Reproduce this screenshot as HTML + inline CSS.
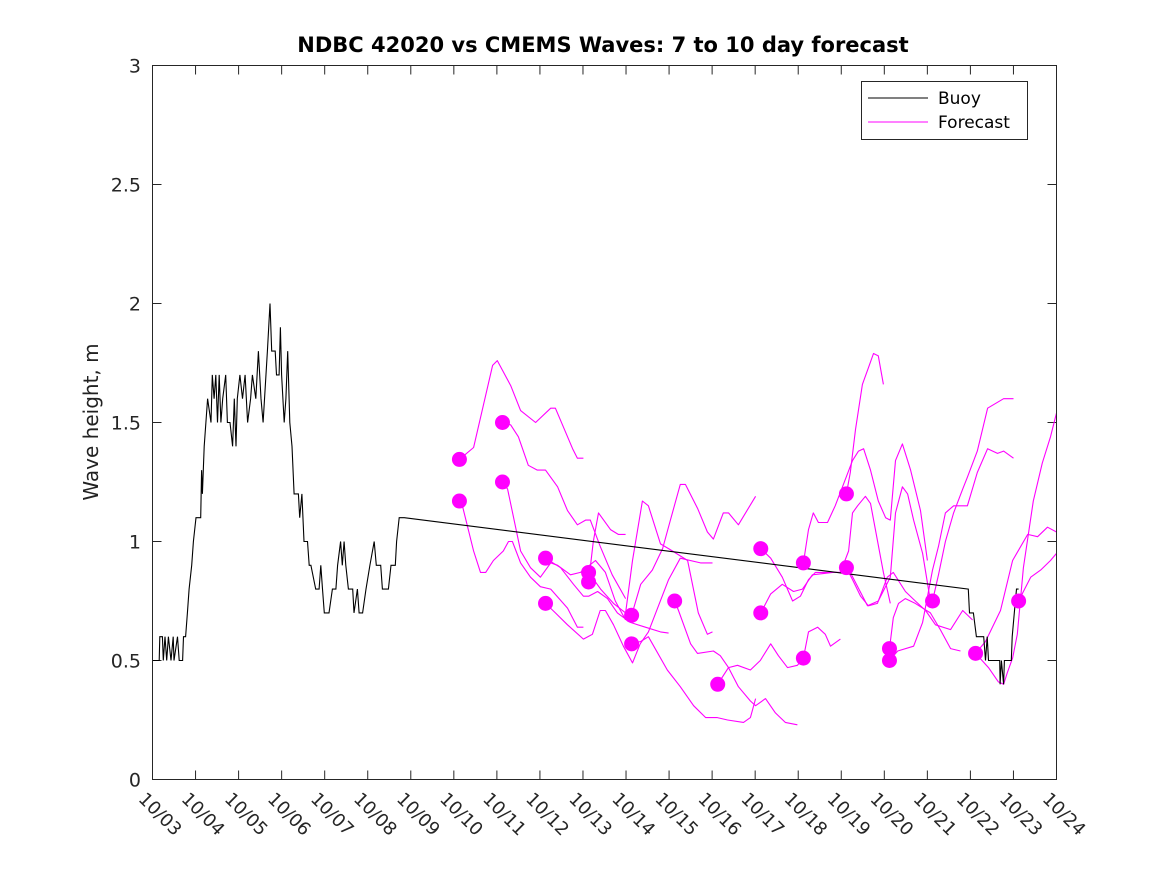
<!DOCTYPE html>
<html><head><meta charset="utf-8"><style>
html,body{margin:0;padding:0;background:#fff;}
svg{display:block;font-family:"DejaVu Sans","Liberation Sans",sans-serif;}
</style></head><body>
<svg id="chart" width="1167" height="875" viewBox="0 0 1167 875">
<rect x="0" y="0" width="1167" height="875" fill="#fff"/>
<text x="603" y="52" text-anchor="middle" font-size="21" font-weight="bold" fill="#000">NDBC 42020 vs CMEMS Waves: 7 to 10 day forecast</text>
<text transform="translate(98,422) rotate(-90)" text-anchor="middle" font-size="20" fill="#222">Wave height, m</text>
<g id="grid"></g>
<g id="forecast"></g>
<g id="buoy"></g>
<g id="dots"></g>
<rect x="152.5" y="65.5" width="904" height="714" fill="none" stroke="#262626" stroke-width="1"/>
<g>
<rect x="861.5" y="81.5" width="166" height="58" fill="#fff" stroke="#262626"/>
<line x1="868" y1="98" x2="928" y2="98" stroke="#000" stroke-width="1"/>
<text x="938" y="104" font-size="17" fill="#000">Buoy</text>
<line x1="868" y1="122" x2="928" y2="122" stroke="#ff00ff" stroke-width="1"/>
<text x="938" y="128" font-size="17" fill="#000">Forecast</text>
</g>
</svg>
<script>
const xTickLabels = ["10/03","10/04","10/05","10/06","10/07","10/08","10/09","10/10","10/11","10/12","10/13","10/14","10/15","10/16","10/17","10/18","10/19","10/20","10/21","10/22","10/23","10/24"];
const yTicks = [0,0.5,1,1.5,2,2.5,3];
const yTickLabels = ["0","0.5","1","1.5","2","2.5","3"];
// buoy: days since 10/03 and height (m)
const buoyDays = [0,0.155,0.17,0.23,0.25,0.29,0.33,0.37,0.43,0.48,0.50,0.58,0.62,0.70,0.72,0.77,0.81,0.85,0.91,0.95,1.01,1.12,1.14,1.16,1.20,1.24,1.28,1.36,1.39,1.43,1.47,1.51,1.55,1.59,1.63,1.70,1.74,1.80,1.86,1.90,1.94,1.97,2.03,2.09,2.15,2.21,2.28,2.32,2.40,2.46,2.52,2.57,2.67,2.73,2.77,2.85,2.88,2.94,2.97,3.00,3.06,3.10,3.14,3.19,3.24,3.29,3.39,3.42,3.47,3.52,3.60,3.64,3.68,3.79,3.87,3.91,3.95,3.99,4.10,4.18,4.26,4.30,4.37,4.41,4.45,4.49,4.55,4.65,4.68,4.76,4.80,4.88,4.96,5.05,5.15,5.20,5.30,5.34,5.48,5.54,5.64,5.67,5.73,5.85,18.95,18.98,19.07,19.14,19.19,19.31,19.35,19.39,19.42,19.68,19.69,19.72,19.77,19.79,19.95,19.97,20.02,20.07,20.12];
const buoyHeights = [0.5,0.5,0.6,0.6,0.5,0.6,0.5,0.6,0.5,0.6,0.5,0.6,0.5,0.5,0.6,0.6,0.7,0.8,0.9,1.0,1.1,1.1,1.3,1.2,1.4,1.5,1.6,1.5,1.7,1.6,1.7,1.5,1.7,1.5,1.6,1.7,1.5,1.5,1.4,1.6,1.4,1.6,1.7,1.6,1.7,1.5,1.6,1.7,1.6,1.8,1.6,1.5,1.8,2.0,1.8,1.8,1.7,1.7,1.9,1.7,1.5,1.6,1.8,1.5,1.4,1.2,1.2,1.1,1.2,1.0,1.0,0.9,0.9,0.8,0.8,0.9,0.8,0.7,0.7,0.8,0.8,0.9,1.0,0.9,1.0,0.9,0.8,0.8,0.7,0.8,0.7,0.7,0.8,0.9,1.0,0.9,0.9,0.8,0.8,0.9,0.9,1.0,1.1,1.1,0.8,0.7,0.7,0.6,0.6,0.6,0.5,0.6,0.5,0.5,0.4,0.5,0.4,0.5,0.5,0.6,0.7,0.8,0.8];
// forecast runs: days and heights
const fcDays = [
[7.13,7.46,7.90,8.01,8.32,8.55,8.90,9.25,9.36,9.76,9.87,10.01],
[7.13,7.20,7.46,7.62,7.74,7.92,8.15,8.27,8.36,8.55,8.78,9.01,9.25,9.64,9.87,10.01],
[8.13,8.32,8.50,8.73,8.94,9.13,9.41,9.64,9.87,10.06,10.17,10.40,10.68,10.99],
[8.13,8.25,8.55,8.78,9.01,9.25,9.41,9.71,9.94,10.29,10.52,10.75,10.99],
[9.13,9.48,9.78,10.01,10.13,10.34,10.57,10.80,11.10,11.45,11.80,11.99],
[9.13,9.36,9.64,10.01,10.22,10.40,10.52,10.71,10.94,11.15,11.33,11.52,11.99,12.26,12.73,13.01],
[10.13,10.41,10.71,10.99,11.15,11.38,11.52,11.80,12.08,12.43,12.68,12.89,13.01],
[10.13,10.24,10.36,10.64,10.82,10.99],
[11.13,11.34,11.61,11.85,12.03,12.26,12.38,12.66,12.89,13.03,13.26,13.38,13.61,14.01],
[11.13,11.34,11.52,11.96,12.26,12.57,12.85,13.12,13.36,13.73,13.89,14.01],
[12.13,12.22,12.50,12.66,13.03,13.19,13.38,13.61,13.89,14.01,14.24,14.47,14.70,14.98],
[13.13,13.38,13.59,13.89,14.12,14.36,14.54,14.75,14.98,15.17],
[14.13,14.36,14.63,14.87,15.05,15.24,15.40,15.98,16.21,16.61,16.86,17.14,17.26,17.42,17.54,17.68,17.89,18.07],
[14.13,14.36,14.63,14.89,15.10,15.33,15.80,15.98,16.17,16.26,16.38,16.56,16.68,16.98,17.14],
[15.12,15.24,15.35,15.47,15.68,15.86,16.05,16.26,16.40,16.52,16.68,16.86,17.03,17.14,17.26,17.42,17.61,17.84,18.00],
[15.12,15.24,15.45,15.63,15.75,15.98],
[16.12,16.21,16.33,16.49,16.63,16.75,16.86,16.98],
[16.12,16.26,16.45,16.63,16.84,17.07,17.21,17.49,17.72,17.96,18.19,18.54,18.82,19.05],
[17.12,17.21,17.33,17.49,17.72,17.89,18.07,18.30,18.54,18.77],
[17.12,17.31,17.68,17.89,18.12,18.26,18.42,18.61,18.93,19.16,19.40,19.63,19.77,20.00],
[18.12,18.26,18.42,18.61,18.82,18.93,19.16,19.40,19.77,20.00],
[19.12,19.42,19.65,19.77,19.86,19.98,20.09,20.23,20.46,20.67,20.86,21.0],
[20.12,20.23,20.40,20.63,20.86,21.0],
[19.12,19.35,19.70,19.98,20.33,20.56,20.79,21.0]
];
const fcHeights = [
[1.345,1.395,1.74,1.76,1.655,1.55,1.50,1.56,1.56,1.39,1.35,1.35],
[1.17,1.15,0.96,0.87,0.87,0.92,0.96,1.00,1.00,0.91,0.85,0.81,0.80,0.72,0.64,0.64],
[1.50,1.49,1.44,1.32,1.30,1.30,1.23,1.13,1.07,1.09,1.09,0.98,0.86,0.76],
[1.25,1.22,0.96,0.89,0.85,0.91,0.90,0.86,0.87,0.92,0.87,0.75,0.67],
[0.93,0.89,0.82,0.77,0.77,0.79,0.76,0.70,0.66,0.64,0.62,0.615],
[0.74,0.70,0.65,0.59,0.61,0.71,0.71,0.65,0.56,0.49,0.57,0.62,0.84,0.93,0.91,0.91],
[0.87,0.80,0.74,0.70,0.92,1.17,1.15,0.99,0.96,0.92,0.70,0.61,0.62],
[0.83,1.00,1.12,1.05,1.03,1.03],
[0.69,0.82,0.88,0.97,1.09,1.24,1.24,1.14,1.04,1.01,1.12,1.12,1.07,1.19],
[0.57,0.58,0.60,0.46,0.39,0.31,0.26,0.26,0.25,0.24,0.26,0.34],
[0.75,0.71,0.57,0.53,0.54,0.52,0.47,0.39,0.33,0.31,0.34,0.28,0.24,0.23],
[0.40,0.47,0.48,0.46,0.50,0.57,0.52,0.47,0.48,0.52],
[0.97,0.93,0.85,0.75,0.77,0.84,0.87,0.87,0.87,0.73,0.75,0.85,1.12,1.23,1.20,1.09,0.95,0.75],
[0.70,0.78,0.82,0.79,0.80,0.86,0.87,0.87,0.96,1.12,1.15,1.19,1.16,0.87,0.74],
[0.91,1.05,1.12,1.08,1.08,1.15,1.24,1.34,1.38,1.39,1.30,1.17,1.10,1.09,1.34,1.41,1.30,1.13,0.92],
[0.51,0.62,0.64,0.61,0.56,0.59],
[1.20,1.29,1.47,1.66,1.73,1.79,1.78,1.66],
[0.89,0.84,0.77,0.73,0.74,0.85,0.87,0.79,0.75,0.71,0.65,0.63,0.71,0.67],
[0.55,0.68,0.74,0.76,0.74,0.72,0.70,0.63,0.55,0.54],
[0.50,0.54,0.56,0.66,0.88,0.98,1.12,1.15,1.15,1.29,1.39,1.37,1.38,1.35],
[0.75,0.86,1.00,1.12,1.22,1.27,1.38,1.56,1.60,1.60],
[0.53,0.47,0.41,0.40,0.45,0.51,0.61,0.89,1.17,1.33,1.44,1.54],
[0.75,0.79,0.85,0.88,0.92,0.95],
[0.53,0.58,0.71,0.92,1.03,1.02,1.06,1.04]
];
const dotDays = [7.13,7.13,8.13,8.13,9.13,9.13,10.13,10.13,11.13,11.13,12.13,13.13,14.13,14.13,15.12,15.12,16.12,16.12,17.12,17.12,18.12,19.12,20.12];
const dotHeights = [1.345,1.17,1.50,1.25,0.93,0.74,0.87,0.83,0.69,0.57,0.75,0.40,0.97,0.70,0.91,0.51,1.20,0.89,0.55,0.50,0.75,0.53,0.75];

const NS = "http://www.w3.org/2000/svg";
const X0 = 152.5, X1 = 1056.5, Y0 = 779.5, Y1 = 65.5;
function xScale(d){ return X0 + d * (X1 - X0) / 21; }
function yScale(v){ return Y0 - v * (Y0 - Y1) / 3; }
function mk(tag, attrs, parent){ const e = document.createElementNS(NS, tag); for (const k in attrs) e.setAttribute(k, attrs[k]); parent.appendChild(e); return e; }

const grid = document.getElementById('grid');
xTickLabels.forEach((lab, i) => {
  const x = xScale(i);
  const t1 = mk('line', {x1:x, y1:Y0, x2:x, y2:Y0-9, stroke:'#262626'}, grid);
  
  
  const t2 = mk('line', {x1:x, y1:Y1, x2:x, y2:Y1+9, stroke:'#262626'}, grid);
  
  
  const tx = mk('text', {x:0, y:0, 'font-size':18, fill:'#262626', transform:'translate(' + (x-15) + ',800) rotate(45)'}, grid);
  tx.textContent = lab;
  
  
});
yTicks.forEach((v, i) => {
  const y = yScale(v);
  const t1 = mk('line', {x1:X0, y1:y, x2:X0+9, y2:y, stroke:'#262626'}, grid);
  
  
  const t2 = mk('line', {x1:X1, y1:y, x2:X1-9, y2:y, stroke:'#262626'}, grid);
  
  
  const tx = mk('text', {x:141, y:y+7, 'font-size':19, fill:'#262626', 'text-anchor':'end'}, grid);
  tx.textContent = yTickLabels[i];
  
  
});

const fg = document.getElementById('forecast');
fcDays.forEach((days, i) => {
  const pts = days.map((d, j) => xScale(d).toFixed(1) + ',' + yScale(fcHeights[i][j]).toFixed(1)).join(' ');
  const p = mk('polyline', {points:pts, fill:'none', stroke:'#ff00ff', 'stroke-width':1.1, 'stroke-linejoin':'round'}, fg);
  
  
});

const bg = document.getElementById('buoy');
const bpts = buoyDays.map((d, j) => xScale(d).toFixed(1) + ',' + yScale(buoyHeights[j]).toFixed(1)).join(' ');
const bl = mk('polyline', {points:bpts, fill:'none', stroke:'#000', 'stroke-width':1.1}, bg);



const dg = document.getElementById('dots');
dotDays.forEach((d, i) => {
  const c = mk('circle', {cx:xScale(d), cy:yScale(dotHeights[i]), r:7.5, fill:'#ff00ff'}, dg);
  
  
});
</script>
</body></html>
